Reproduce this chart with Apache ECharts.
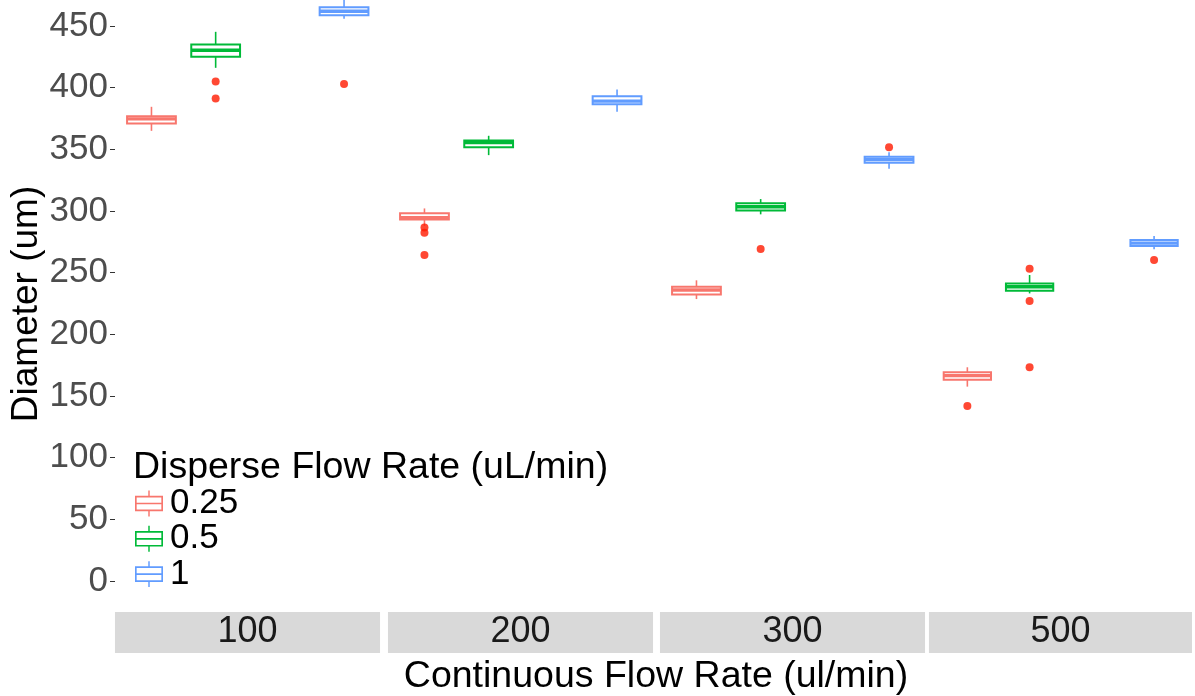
<!DOCTYPE html>
<html>
<head>
<meta charset="utf-8">
<script src="https://cdn.jsdelivr.net/npm/echarts@6/dist/echarts.min.js"></script>
<style>
  html, body { margin: 0; padding: 0; background: #fff; }
  #chart { width: 1195px; height: 696px; }
</style>
</head>
<body>
<div id="chart"></div>
<script>
// facets (continuous flow rate) and groups (disperse flow rate)
var panels = ['100', '200', '300', '500'];
var disperse = ['0.25', '0.5', '1'];
var dispersePos = [0.25, 0.5, 1];
var yTicks = [0, 50, 100, 150, 200, 250, 300, 350, 400, 450];

// [min, Q1, median, Q3, max] per facet
var box025 = [
    [364.9, 370.9, 374.6, 376.8, 384.4],
    [287.9, 293.1, 294.4, 298.0, 302.0],
    [228.5, 232.3, 235.8, 238.5, 243.7],
    [157.5, 163.1, 166.4, 169.1, 173.2]
];
var box05 = [
    [416.0, 424.9, 430.3, 434.9, 445.2],
    [345.2, 351.7, 355.5, 357.1, 360.9],
    [297.2, 300.4, 303.3, 306.1, 309.6],
    [233.1, 235.3, 238.5, 241.2, 248.0]
];
var box1 = [
    [455.7, 458.7, 461.9, 465.2, 474.0],
    [380.3, 386.5, 389.0, 393.0, 398.5],
    [334.1, 339.0, 341.7, 343.8, 347.6],
    [268.8, 271.5, 273.9, 276.3, 279.6]
];
// outliers per facet
var out025 = [[], [286.6, 282.3, 264.2], [], [141.8]];
var out05 = [[405.0, 391.2], [], [269.0], [253.1, 226.9, 173.2]];
var out1 = [[402.8], [], [351.7], [260.1]];

var colors = ['#F8766D', '#00BA38', '#619CFF'];
var boxes = [box025, box05, box1];
var outs = [out025, out05, out1];
var boxWidth = 0.19;

// legend key: box with median and whiskers (holes cut by reversed winding)
var keyIcon = 'path://M0 5H27V20H0Z M1.6 6.6V11.7H25.4V6.6Z M1.6 13.3V18.4H25.4V13.3Z ' +
    'M12.8 0H14.2V5H12.8Z M12.8 20H14.2V25H12.8Z';

function renderBox(params, api) {
    var x = api.value(0);
    var lo = api.coord([x, api.value(1)]);
    var q1 = api.coord([x, api.value(2)]);
    var md = api.coord([x, api.value(3)]);
    var q3 = api.coord([x, api.value(4)]);
    var hi = api.coord([x, api.value(5)]);
    var w = api.size([boxWidth, 0])[0];
    var c = api.visual('color');
    return {
        type: 'group',
        children: [
            { type: 'line', shape: { x1: lo[0], y1: lo[1], x2: q1[0], y2: q1[1] }, style: { stroke: c, lineWidth: 1.6 } },
            { type: 'line', shape: { x1: q3[0], y1: q3[1], x2: hi[0], y2: hi[1] }, style: { stroke: c, lineWidth: 1.6 } },
            { type: 'rect', shape: { x: q3[0] - w / 2, y: q3[1], width: w, height: q1[1] - q3[1] },
              style: { fill: '#fff', stroke: c, lineWidth: 2 } },
            { type: 'line', shape: { x1: md[0] - w / 2, y1: md[1], x2: md[0] + w / 2, y2: md[1] },
              style: { stroke: c, lineWidth: 3.4 } }
        ]
    };
}

var grids = [], xAxes = [], yAxes = [], series = [];
var panelLeft = [115, 388, 660, 932];
var panelWidth = [265, 265, 265, 263];

panels.forEach(function (p, i) {
    grids.push({ left: panelLeft[i], width: panelWidth[i], top: 0, bottom: 88 });
    // strip label drawn as the axis name with a grey padded background
    var padX = (panelWidth[i] - 60) / 2;
    xAxes.push({
        type: 'value', gridIndex: i, min: 0.108, max: 1.14,
        axisLine: { show: false }, axisTick: { show: false }, axisLabel: { show: false },
        splitLine: { show: false },
        name: p, nameLocation: 'middle', nameGap: 4,
        nameTextStyle: {
            fontSize: 36, color: '#1a1a1a', fontFamily: 'Liberation Sans',
            backgroundColor: '#d9d9d9', lineHeight: 41,
            padding: [0, padX, 0, padX],
            verticalAlign: 'top'
        }
    });
    yAxes.push({
        type: 'value', gridIndex: i, min: -22, max: 471,
        axisLine: { show: false },
        splitLine: { show: false },
        axisTick: { show: i === 0, length: 5, lineStyle: { color: '#333', width: 1 }, customValues: yTicks },
        axisLabel: { show: i === 0, fontSize: 35, color: '#4d4d4d', margin: 7, fontFamily: 'Liberation Sans', customValues: yTicks },
        name: i === 0 ? 'Diameter (um)' : '',
        nameLocation: 'middle', nameGap: 66,
        nameTextStyle: { fontSize: 37, color: '#000', fontFamily: 'Liberation Sans' }
    });
    disperse.forEach(function (g, k) {
        var s = boxes[k][i];
        series.push({
            name: g, type: 'custom', xAxisIndex: i, yAxisIndex: i, clip: true,
            itemStyle: { color: colors[k] },
            renderItem: renderBox,
            encode: { x: 0, y: [1, 2, 3, 4, 5] },
            data: [[dispersePos[k], s[0], s[1], s[2], s[3], s[4]]],
            z: 2
        });
    });
    var pts = [];
    disperse.forEach(function (g, k) {
        outs[k][i].forEach(function (v) { pts.push([dispersePos[k], v]); });
    });
    series.push({
        name: 'outlier', type: 'scatter', xAxisIndex: i, yAxisIndex: i,
        symbolSize: 8, itemStyle: { color: '#ff1a00' }, data: pts, z: 3
    });
});

var chart = echarts.init(document.getElementById('chart'));
chart.setOption({
    animation: false,
    backgroundColor: '#fff',
    grid: grids,
    xAxis: xAxes,
    yAxis: yAxes,
    legend: {
        data: disperse.map(function (g, k) { return { name: g, icon: keyIcon, itemStyle: { color: colors[k] } }; }),
        orient: 'vertical', left: 135, top: 486, padding: 0,
        itemWidth: 28, itemHeight: 27, itemGap: 0.3,
        selectedMode: false,
        textStyle: { fontSize: 35, color: '#000', lineHeight: 35, fontFamily: 'Liberation Sans', padding: [0, 0, 0, 2] }
    },
    graphic: [
        { type: 'text', style: { text: 'Disperse Flow Rate (uL/min)', x: 133, y: 468, textAlign: 'left', textVerticalAlign: 'middle',
            font: '37.5px "Liberation Sans"', fill: '#000' } },
        { type: 'text', style: { text: 'Continuous Flow Rate (ul/min)', x: 656, y: 677, textAlign: 'center', textVerticalAlign: 'middle',
            font: '37.5px "Liberation Sans"', fill: '#000' } }
    ],
    series: series
});
</script>
</body>
</html>
